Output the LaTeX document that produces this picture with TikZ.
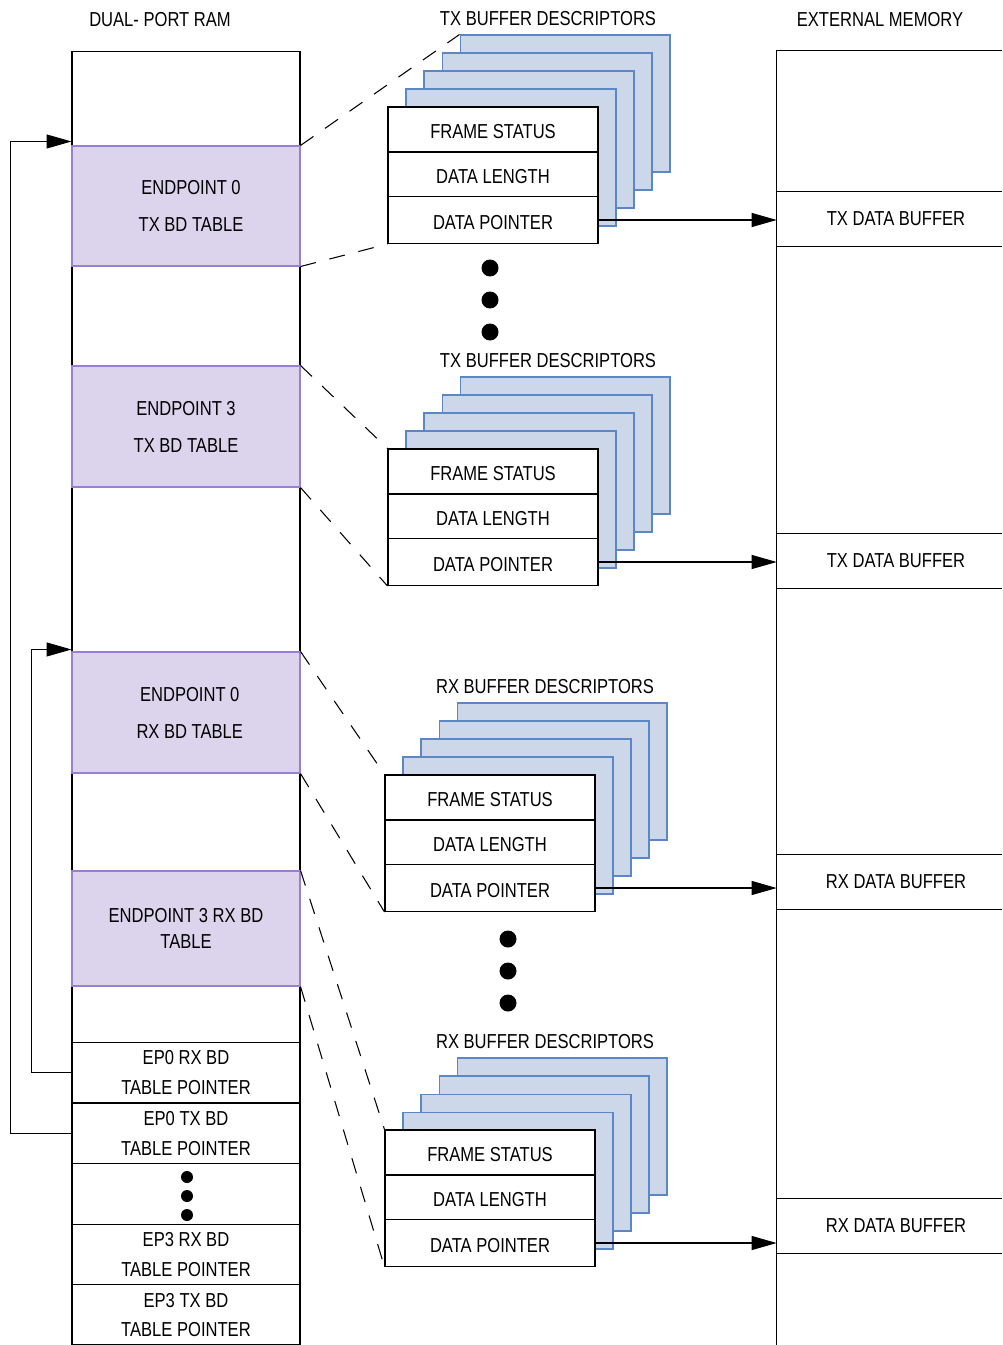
\documentclass[tikz,border=0pt]{standalone}
\usepackage{fontspec}
\setmainfont{Liberation Sans}[FakeStretch=0.82]
\usetikzlibrary{arrows.meta}
\definecolor{bdfill}{HTML}{CCD7E9}
\definecolor{bdline}{HTML}{5B87C6}
\definecolor{epfill}{HTML}{DCD4EC}
\definecolor{epline}{HTML}{9A7ED6}

\begin{document}
\begin{tikzpicture}[
    x=0.02cm, y=-0.02cm,
    every node/.style={font=\fontsize{11.5}{13}\selectfont},
    ramcol/.style={draw, line width=0.6pt, minimum width=4.56cm, minimum height=25.88cm},
    epblk/.style={draw=epline, fill=epfill, line width=0.6pt, minimum width=4.56cm, align=center, font=\fontsize{11.5}{21}\selectfont},
    ptrcell/.style={draw, line width=0.6pt, minimum width=4.56cm, minimum height=1.21cm, align=center, font=\fontsize{11.5}{17}\selectfont},
    backbd/.style={draw=bdline, fill=bdfill, line width=0.6pt, minimum width=4.2cm, minimum height=2.74cm},
    bdrow/.style={draw, fill=white, line width=0.6pt, minimum width=4.2cm, minimum height=0.9cm, text height=1.05em, text depth=0pt},
    databuf/.style={minimum width=4.5cm, minimum height=1.08cm},
    arr/.style={-{Triangle[length=0.5cm, width=0.28cm]}, line width=0.6pt},
    link/.style={dash pattern=on 9pt off 8pt, line width=0.6pt},
]
\useasboundingbox (0,0) rectangle (1002,1345);

% titles
\node (ramttl) at (160,20) {DUAL- PORT RAM};
\node (memttl) at (880,20) {EXTERNAL MEMORY};

% dual-port ram
\node[ramcol] (ram) at (186,698) {};
\node[epblk, minimum height=2.4cm]  (ep0tx) at (186,206)   {\hspace*{0.2cm}ENDPOINT 0\\\hspace*{0.2cm}TX BD TABLE};
\node[epblk, minimum height=2.42cm] (ep3tx) at (186,426.5) {ENDPOINT 3\\TX BD TABLE};
\node[epblk, minimum height=2.42cm] (ep0rx) at (186,712.5) {\hspace*{0.15cm}ENDPOINT 0\\\hspace*{0.15cm}RX BD TABLE};
\node[epblk, minimum height=2.3cm]  (ep3rx) at (186,928.5) {ENDPOINT 3 RX BD\\[-6pt]TABLE};

\node[ptrcell] (ptr0rx)  at (186,1072.5) {EP0 RX BD\\TABLE POINTER};
\node[ptrcell] (ptr0tx)  at (186,1133.5) {EP0 TX BD\\TABLE POINTER};
\node[ptrcell] (ptrdots) at (186,1194)   {};
\node[ptrcell] (ptr3rx)  at (186,1254.5) {EP3 RX BD\\TABLE POINTER};
\node[ptrcell] (ptr3tx)  at (186,1315)   {EP3 TX BD\\TABLE POINTER};
\fill (187,1177) circle (0.12cm) (187,1196) circle (0.12cm) (187,1215) circle (0.12cm);

% external memory
\node[minimum width=4.5cm, minimum height=25.88cm] (mem) at (889.5,698) {};
\draw[line width=0.6pt] (mem.south west) -- (mem.north west) -- (mem.north east);

% descriptor stacks and their data buffers
\foreach \st/\x/\y/\lbl/\by in {A/493/107/TX/219, B/493/449/TX/561, C/490/775/RX/882, D/490/1130/RX/1226} {
    \node (ttl\st) at (\x+55,\y-88) {\lbl\ BUFFER DESCRIPTORS};
    \foreach \k in {4,3,2,1}
        \node[backbd] (bk\st\k) at (\x+18*\k,\y+68.5-18*\k) {};
    \node[bdrow] (fs\st) at (\x,\y+22.5) {FRAME STATUS};
    \node[bdrow] (dl\st) at (\x,\y+67.5) {DATA LENGTH};
    \node[bdrow, minimum height=0.94cm] (dp\st) at (\x,\y+113) {DATA POINTER};
    \node[databuf] (buf\st) at (896,\by) {\lbl\ DATA BUFFER};
    \draw[line width=0.6pt] (buf\st.north west -| mem.west) -- (buf\st.north east -| mem.east)
                            (buf\st.south west -| mem.west) -- (buf\st.south east -| mem.east);
    \draw[arr] (dp\st.east) -- (dp\st.east -| mem.west);
}

% more descriptors
\fill (490,268) circle (0.17cm) (490,300) circle (0.17cm) (490,332) circle (0.17cm);
\fill (508,939) circle (0.17cm) (508,971) circle (0.17cm) (508,1003) circle (0.17cm);

% bd tables -> descriptors
\draw[link] (ep0tx.north east) -- (bkA4.north west);
\draw[link] (ep0tx.south east) -- (dpA.south west);
\draw[link] (ep3tx.north east) -- (fsB.north west);
\draw[link] (ep3tx.south east) -- (dpB.south west);
\draw[link] (ep0rx.north east) -- (fsC.north west);
\draw[link] (ep0rx.south east) -- (dpC.south west);
\draw[link] (ep3rx.north east) -- (fsD.north west);
\draw[link] (ep3rx.south east) -- (dpD.south west);

% table pointers -> bd tables
\draw[arr] (ptr0rx.west) -- ++(-40,0) |- ([yshift=0.04cm]ep0rx.north west);
\draw[arr] (ptr0tx.west) -- ++(-61,0) |- ([yshift=0.08cm]ep0tx.north west);

\end{tikzpicture}
\end{document}
